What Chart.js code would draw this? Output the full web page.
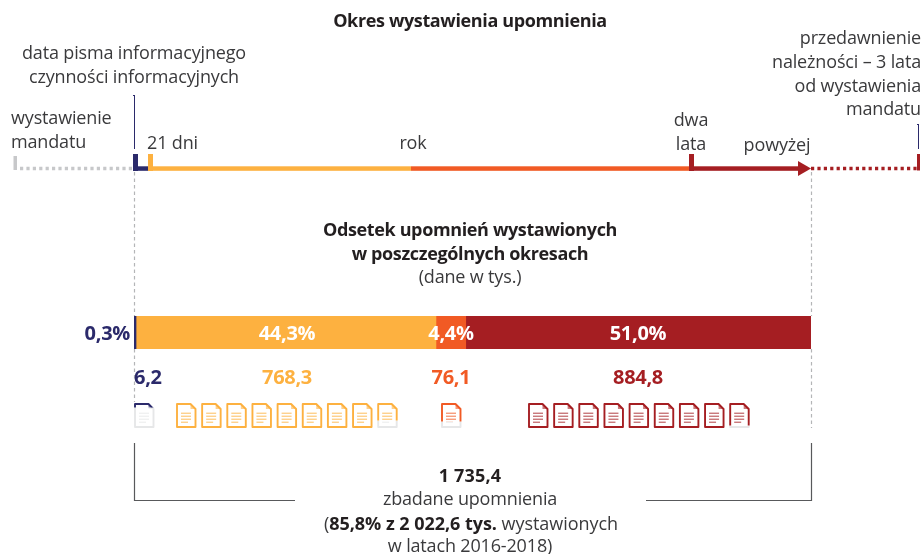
<!DOCTYPE html>
<html lang="pl"><head><meta charset="utf-8">
<script src="https://cdn.jsdelivr.net/npm/chart.js@4"></script>
<style>
html,body{margin:0;padding:0;background:#fff;overflow:hidden}
#wrap{position:relative;width:922px;height:554px}
canvas{position:absolute;left:0;top:0}
.t{position:absolute;white-space:nowrap;font:18px/1 "Open Sans",sans-serif;color:#3a3a3c;letter-spacing:-.16px}
.b{font-weight:700;color:#231f20;letter-spacing:-.36px}
</style></head><body>
<div id="wrap"><canvas id="c" width="922" height="554"></canvas></div>
<script>
const categories = ['Odsetek'];
const seriesNames = ['do 21 dni','rok','dwa lata','powyżej'];
const percentValues = [0.3, 44.3, 4.4, 51.0];
const percentLabels = ['0,3%','44,3%','4,4%','51,0%'];
const amountLabels = ['6,2','768,3','76,1','884,8'];
const seriesColors = ['#2b2a6b','#fdb140','#f15a24','#a51e22'];
const iconCounts = [1, 9, 1, 9];
const lastIconFill = [0.14, 0.66, 0.7, 0.86];
const timelineTicks = ['21 dni','rok','dwa lata','powyżej'];

const GREY='#c7c8ca';
function docIcon(ctx,x,y,w,h,color){
  const f=5;
  ctx.save();
  ctx.strokeStyle=color;ctx.lineWidth=1.9;ctx.lineJoin='round';
  ctx.beginPath();ctx.moveTo(x,y);ctx.lineTo(x+w-f,y);ctx.lineTo(x+w,y+f);ctx.lineTo(x+w,y+h);ctx.lineTo(x,y+h);ctx.closePath();ctx.stroke();
  ctx.globalAlpha=.6;ctx.fillStyle=color;ctx.beginPath();ctx.moveTo(x+w-f,y);ctx.lineTo(x+w,y+f);ctx.lineTo(x+w-f,y+f);ctx.closePath();ctx.fill();
  ctx.globalAlpha=.85;ctx.lineWidth=1;
  [[9.2,14],[12.2,14],[15.2,14],[18.2,11]].forEach(([b,c])=>{ctx.beginPath();ctx.moveTo(x+4,y+b);ctx.lineTo(x+c,y+b);ctx.stroke();});
  ctx.restore();
}
function docIconFilled(ctx,x,y,w,h,color,frac){
  docIcon(ctx,x,y,w,h,'#e6e7e8');
  ctx.save();ctx.beginPath();ctx.rect(x-2,y-2,w+4,(h+2)*frac+2);ctx.clip();
  ctx.fillStyle='#fff';ctx.fillRect(x-2,y-2,w+4,h+4);
  docIcon(ctx,x,y,w,h,color);
  ctx.restore();
}
const infographic={id:'infographic',
 afterDraw(chart){
  const ctx=chart.ctx;
  ctx.save();
  // dashed guides
  ctx.strokeStyle='#b4b5b7';ctx.lineWidth=1.2;ctx.setLineDash([3.5,3]);
  ctx.beginPath();ctx.moveTo(134.5,172);ctx.lineTo(134.5,316);ctx.moveTo(134.5,349);ctx.lineTo(134.5,402);
  ctx.moveTo(811.5,172);ctx.lineTo(811.5,316);ctx.moveTo(811.5,349);ctx.lineTo(811.5,428);ctx.stroke();
  ctx.setLineDash([]);
  // timeline dotted
  ctx.lineWidth=3.5;ctx.setLineDash([3.2,3.2]);
  ctx.strokeStyle=GREY;ctx.beginPath();ctx.moveTo(20,168.5);ctx.lineTo(133,168.5);ctx.stroke();
  ctx.strokeStyle=seriesColors[3];ctx.beginPath();ctx.moveTo(811,168.5);ctx.lineTo(918,168.5);ctx.stroke();
  ctx.setLineDash([]);
  ctx.fillStyle=GREY;ctx.fillRect(13.5,156,3.5,14);
  ctx.fillStyle=seriesColors[3];ctx.fillRect(917,154,3,16.5);
  ctx.fillStyle=seriesColors[0];ctx.fillRect(133,154,5,17);ctx.fillRect(133,166.3,15,4.5);
  ctx.fillRect(134,95,1,54);ctx.fillRect(133,95,2,1);
  ctx.fillRect(918,124,1,25);ctx.fillRect(917,124,2,1);
  ctx.fillStyle=seriesColors[1];ctx.fillRect(148,154,5,17);ctx.fillRect(148,166.3,263,4.5);
  ctx.fillStyle=seriesColors[2];ctx.fillRect(411,166.3,278,4.5);
  ctx.fillStyle=seriesColors[3];ctx.fillRect(689,154,5,17);ctx.fillRect(689,166.3,112,4.5);
  ctx.beginPath();ctx.moveTo(798,161);ctx.lineTo(811,168.5);ctx.lineTo(798,176);ctx.closePath();ctx.fill();
  // bracket
  ctx.strokeStyle='#58595b';ctx.lineWidth=1.2;
  ctx.beginPath();ctx.moveTo(134.5,443);ctx.lineTo(134.5,500.5);ctx.lineTo(295,500.5);
  ctx.moveTo(646,500.5);ctx.lineTo(811.5,500.5);ctx.lineTo(811.5,443);ctx.stroke();
  // icons
  const starts=[134,176,441,528],step=25.15;
  iconCounts.forEach((n,s)=>{
    for(let i=0;i<n;i++){
      const fr=i===n-1?lastIconFill[s]:1;
      docIconFilled(ctx,starts[s]+i*step+1,404,18.5,23,seriesColors[s],fr);
    }
  });
  ctx.restore();
 }
};
new Chart(document.getElementById('c'),{
 type:'bar',
 data:{labels:categories,datasets:seriesNames.map((n,i)=>({label:n,data:[percentValues[i]],backgroundColor:seriesColors[i],borderWidth:0,barPercentage:1,categoryPercentage:1}))},
 options:{indexAxis:'y',responsive:false,animation:false,
  layout:{padding:{left:134,right:111,top:316,bottom:205}},
  scales:{x:{stacked:true,min:0,max:100,display:false},y:{stacked:true,display:false}},
  plugins:{legend:{display:false},tooltip:{enabled:false}}},
 plugins:[infographic]
});
const wrap=document.getElementById('wrap');
function txt(s,x,cy,o={}){
  const d=document.createElement('div');d.className='t'+(o.b?' b':'');
  d.innerHTML=s;wrap.appendChild(d);
  if(o.color)d.style.color=o.color;
  if(o.size){d.style.fontSize=o.size+'px';d.style.letterSpacing='-.3px';}
  if(o.ls!==undefined)d.style.letterSpacing=o.ls+'px';
  const a=o.a||'c';
  d.style.top=(cy-10)+'px';
  if(a==='c')d.style.left=x+'px',d.style.transform='translateX(-50%)';
  if(a==='l')d.style.left=x+'px';
  if(a==='r')d.style.right=(922-x)+'px';
}
txt('Okres wystawienia upomnienia',470,21,{b:1});
txt('data pisma informacyjnego',134,53);
txt('czynności informacyjnych',134,77);
txt('wystawienie',11,118,{a:'l'});
txt('mandatu',11,142,{a:'l'});
txt(timelineTicks[0],147,143,{a:'l'});
txt(timelineTicks[1],413,143);
txt('dwa',691,120);
txt('lata',691,144);
txt(timelineTicks[3],777,145);
txt('przedawnienie',921,38,{a:'r'});
txt('należności – 3 lata',921,62,{a:'r'});
txt('od wystawienia',921,86,{a:'r'});
txt('mandatu',921,109,{a:'r'});
txt('Odsetek upomnień wystawionych',470,230,{b:1});
txt('w poszczególnych okresach',470,254,{b:1});
txt('(dane w tys.)',470,277);
txt(percentLabels[0],130,333,{b:1,a:'r',color:seriesColors[0],size:20});
[1,2,3].forEach((i,k)=>txt(percentLabels[i],[287,451,638][k],333,{b:1,color:'#fff',size:20}));
txt(amountLabels[0],134,377,{b:1,a:'l',color:seriesColors[0],size:20});
[1,2,3].forEach((i,k)=>txt(amountLabels[i],[287,451,638][k],377,{b:1,color:seriesColors[i],size:20}));
txt('1 735,4',470,476,{b:1,ls:.2});
txt('zbadane upomnienia',470,499);
txt('(<b style="color:#231f20">85,8% z 2 022,6 tys.</b> wystawionych',471,524,{ls:-.04});
txt('w latach 2016-2018)',470,546);
</script>
</body></html>
